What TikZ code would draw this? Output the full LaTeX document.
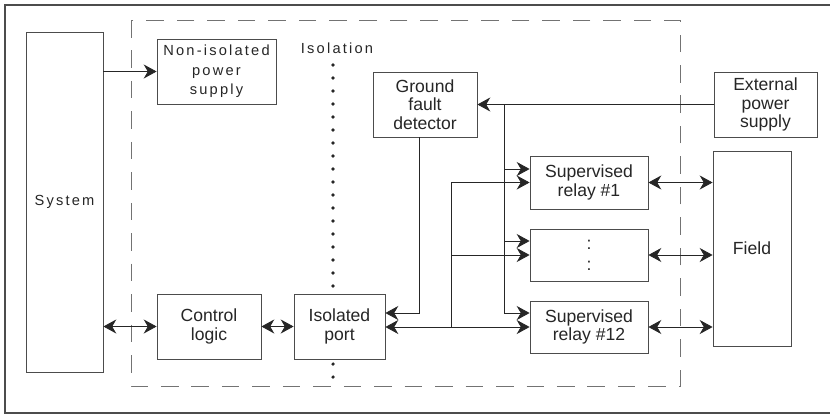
\documentclass[tikz,border=0pt]{standalone}
\usepackage{fontspec}
\setmainfont{Liberation Sans}
\usetikzlibrary{arrows.meta}

\tikzset{
    head/.tip={Stealth[length=11pt, width=12pt, inset=3.5pt]},
}

\begin{document}
\begin{tikzpicture}
    [
        x=0.03cm, y=-0.03cm,
        block/.style={draw=black!70, fill=white, line width=0.7pt, align=center,
            inner sep=0pt, text=black!85, font=\fontsize{15}{16}\selectfont},
        spaced/.style={font=\fontsize{12.5}{16.5}\selectfont\addfontfeature{LetterSpace=15}},
        wire/.style={draw=black!85, line width=0.7pt},
        link/.style={wire, -head},
        both/.style={wire, head-head},
    ]
    \useasboundingbox (0,0) rectangle (830,415);

    % frames
    \draw [black!70, line width=1.1pt] (5,5) rectangle (840,413);
    \draw [black!55, line width=0.8pt, dash pattern=on 15pt off 11pt] (131,20) rectangle (680,386);

    % isolation barrier
    \node (isol) at (337,48) [spaced, text=black!85] {Isolation};
    \foreach \k in {0,...,24}
        \fill [black!85] (333,{65+13*\k}) circle (1.5pt);

    % blocks
    \node (sys)   at (64.5,202)   [block, spaced, minimum width=2.31cm, minimum height=10.2cm] {System};
    \node (niso)  at (216.5,71.5) [block, spaced, minimum width=3.57cm, minimum height=1.95cm] {Non-isolated\\power\\supply};
    \node (gfd)   at (425,104.5)  [block, minimum width=3.12cm, minimum height=1.95cm] {Ground\\fault\\detector};
    \node (ext)   at (765.5,104.5)[block, minimum width=3.09cm, minimum height=1.95cm] {External\\power\\supply};
    \node (ctrl)  at (209,326.5)  [block, minimum width=3.12cm, minimum height=1.95cm] {Control\\logic};
    \node (iso)   at (339.5,326.5)[block, minimum width=2.73cm, minimum height=1.95cm] {Isolated\\port};
    \node (rly1)  at (589,182.5)  [block, minimum width=3.54cm, minimum height=1.59cm] {Supervised\\relay \#1};
    \node (rlyd)  at (589,255)    [block, minimum width=3.54cm, minimum height=1.56cm] {:\\[2pt]:};
    \node (rly12) at (589,327)    [block, minimum width=3.54cm, minimum height=1.56cm] {Supervised\\relay \#12};
    \node (fld)   at (752,248.5)  [block, minimum width=2.34cm, minimum height=5.85cm] {Field};

    % system side
    \draw [link] (sys.east |- niso.west) -- (niso.west);
    \draw [both] (sys.east |- ctrl.west) -- (ctrl.west);
    \draw [both] (ctrl) -- (iso);

    % external supply
    \coordinate (e1) at (504,169);
    \coordinate (e2) at (504,241);
    \coordinate (e3) at (504,313);
    \draw [link] (ext) -- (gfd);
    \draw [wire] (ext.west -| e1) -- (e3);
    \draw [link] (e1) -- (e1 -| rly1.west);
    \draw [link] (e2) -- (e2 -| rlyd.west);
    \draw [link] (e3) -- (e3 -| rly12.west);

    % ground fault
    \coordinate (g1) at (419,313);
    \draw [link] (gfd.south -| g1) -- (g1) -- (g1 -| iso.east);

    % relay bus
    \coordinate (b1) at (451,182.5);
    \coordinate (b2) at (451,255);
    \draw [both] (iso.east |- rly12.west) -- (rly12.west);
    \draw [wire] (b1) -- (b1 |- rly12.west);
    \draw [link] (b1) -- (rly1.west);
    \draw [link] (b2) -- (rlyd.west);

    % field
    \draw [both] (rly1.east) -- (rly1.east -| fld.west);
    \draw [both] (rlyd.east) -- (rlyd.east -| fld.west);
    \draw [both] (rly12.east) -- (rly12.east -| fld.west);
\end{tikzpicture}
\end{document}
